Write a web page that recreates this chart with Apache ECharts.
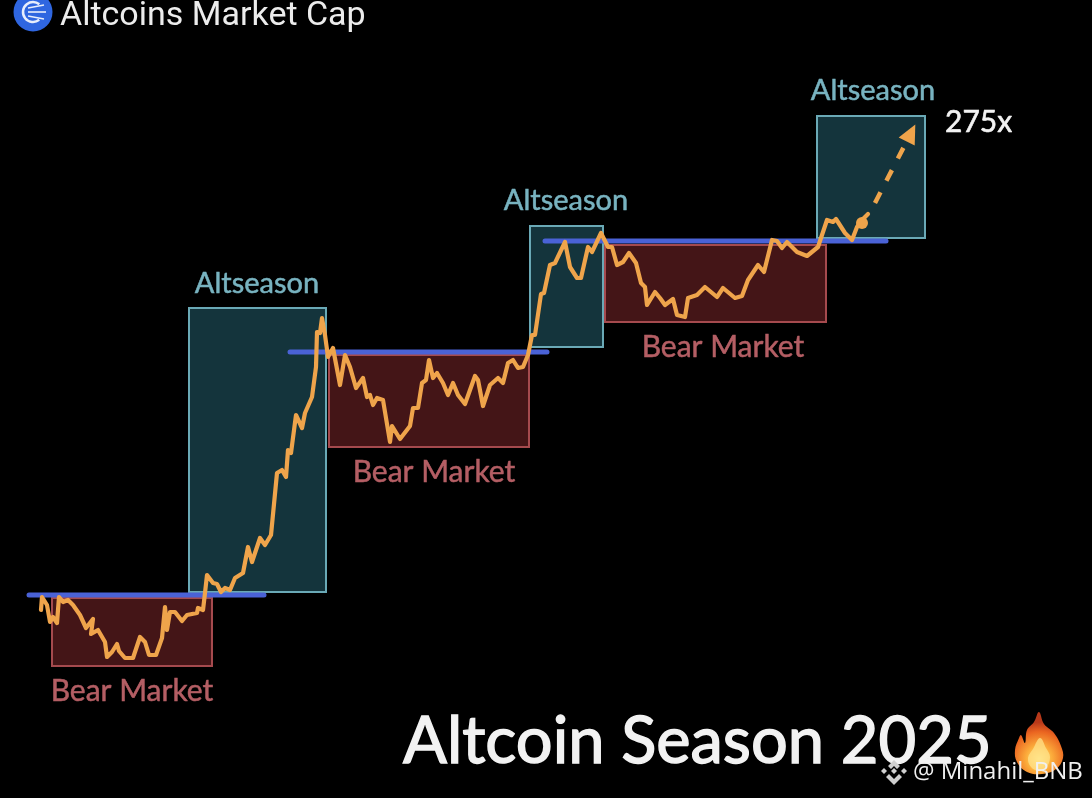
<!DOCTYPE html>
<html>
<head>
<meta charset="utf-8">
<title>Altcoins Market Cap</title>
<script src="https://cdn.jsdelivr.net/npm/echarts@6/dist/echarts.min.js"></script>
<style>
  html,body{margin:0;padding:0;background:#000;}
  #main{width:1092px;height:798px;}
</style>
</head>
<body>
<div id="main"></div>
<script>
var priceX = [41,42,47,50,53,57,59,63,68,73,80,86,93,91,98,105,107,112,117,119,125,133,140,145,149,156,162,165,167,170,175,182,187,197,198,203,205,207,213,217,221,225,230,235,243,248,252,260,265,271,277,282,286,288,291,296,302,305,312,316,317,320,322,325,328,333,340,345,350,356,363,367,370,373,377,383,390,392,400,410,413,418,422,426,429,433,437,443,448,453,458,465,475,478,483,490,498,503,508,513,518,523,528,532,535,541,544,550,555,565,570,577,581,588,592,601,608,612,617,623,629,636,641,645,647,655,660,665,673,677,685,688,697,705,717,723,735,742,748,758,764,772,777,782,787,797,807,818,823,827,833,836,845,852,857,862,868];
var priceY = [610,597,605,622,617,623,597,602,600,605,615,628,619,634,630,642,657,652,644,651,658,658,637,642,655,655,638,607,630,612,612,621,615,613,608,610,593,575,583,584,592,588,590,578,573,547,562,538,545,535,473,470,477,450,453,415,428,413,397,367,332,333,318,335,357,348,385,355,367,388,378,397,395,405,398,400,442,426,439,426,408,408,383,380,360,378,373,383,395,383,395,404,376,380,406,385,378,383,363,360,368,367,355,335,335,294,293,265,263,242,267,278,278,247,252,233,247,247,265,262,253,263,283,287,305,292,298,305,299,315,317,298,295,287,297,288,298,296,280,265,272,240,241,248,242,252,256,247,232,220,222,219,233,240,227,220,214];

var forecastX = [875,911];
var forecastY = [203,133];
var blobX = [862];
var blobY = [223];

// [x start, top, x end, bottom]
var altseasonBoxes = [[189,308,326,592],[530,226,603,347],[817,116,925,238]];
var bearBoxes = [[52,598,212,666],[329,355,529,447],[605,245,826,322]];
var resistanceLines = [[29,264,595],[290,547,352],[545,886,241]];

var altseasonLabelX = [257,566,873];
var altseasonLabelY = [284,201,91];
var bearLabelX = [132,434,723];
var bearLabelY = [691,472,347];

var chartTitle = 'Altcoins Market Cap';
var bottomTitle = 'Altcoin Season 2025';
var targetLabel = '275x';
var watermark = '@ Minahil_BNB';

var myChart = echarts.init(document.getElementById('main'));

function boxSeries(name, rows, fill, stroke) {
  return {
    name: name,
    type: 'custom',
    coordinateSystem: 'cartesian2d',
    clip: false,
    z: 1,
    silent: true,
    data: rows,
    encode: { x: [0, 2], y: [1, 3] },
    renderItem: function (params, api) {
      var a = api.coord([api.value(0), api.value(1)]);
      var b = api.coord([api.value(2), api.value(3)]);
      return {
        type: 'rect',
        shape: { x: a[0], y: a[1], width: b[0] - a[0], height: b[1] - a[1] },
        style: { fill: fill, stroke: stroke, lineWidth: 2 }
      };
    }
  };
}

function labelSeries(xs, ys, text, color, size, family) {
  return {
    type: 'scatter',
    symbolSize: 0,
    z: 6,
    silent: true,
    itemStyle: { opacity: 1 },
    data: xs.map(function (x, i) { return [x, ys[i]]; }),
    label: {
      show: true,
      position: 'inside',
      formatter: text,
      color: color,
      opacity: 1,
      fontSize: size,
      fontFamily: family,
      textBorderColor: color,
      textBorderWidth: 0.5
    }
  };
}

var series = [];
series.push(boxSeries('Altseason', altseasonBoxes, '#14343c', '#6aa9b6'));
series.push(boxSeries('Bear Market', bearBoxes, '#441517', '#a54a4e'));

resistanceLines.forEach(function (r) {
  series.push({
    type: 'line',
    silent: true,
    symbol: 'none',
    z: 2,
    data: [[r[0], r[2]], [r[1], r[2]]],
    lineStyle: { color: '#4a62d6', width: 5, cap: 'round' }
  });
});

series.push({
  name: 'Altcoins Market Cap',
  type: 'line',
  silent: true,
  symbol: 'none',
  z: 4,
  data: priceX.map(function (x, i) { return [x, priceY[i]]; }),
  lineStyle: { color: '#efa44b', width: 4.2, join: 'round', cap: 'round' }
});

series.push({
  type: 'line',
  silent: true,
  z: 4,
  data: [
    { value: [forecastX[0], forecastY[0]], symbol: 'none' },
    { value: [forecastX[1], forecastY[1]], symbol: 'triangle', symbolSize: [18, 19], symbolRotate: -27 }
  ],
  itemStyle: { color: '#efa44b', opacity: 1 },
  lineStyle: { color: '#efa44b', width: 4.5, type: [12, 13], cap: 'butt' }
});

series.push({
  type: 'scatter',
  silent: true,
  z: 4,
  symbolSize: 12,
  itemStyle: { color: '#efa44b', opacity: 1 },
  data: blobX.map(function (x, i) { return [x, blobY[i]]; })
});

series.push(labelSeries(altseasonLabelX, altseasonLabelY, 'Altseason', '#78b3c0', 29, 'Lato'));
series.push(labelSeries(bearLabelX, bearLabelY, 'Bear Market', '#b45e64', 30, 'Lato'));

var flameOuter = [[1039,712],[1044,724],[1054,733],[1061,746],[1063,758],[1056,769],[1042,774],[1027,772],[1017,762],[1015,750],[1019,738],[1021,735],[1025,743],[1027,730],[1034,722]];
var flameInner = [[1040,738],[1046,748],[1050,757],[1046,768],[1039,771],[1031,767],[1028,758],[1033,749]];

var option = {
  backgroundColor: '#000',
  animation: false,
  grid: { left: 0, right: 0, top: 0, bottom: 0 },
  xAxis: { type: 'value', min: 0, max: 1092, show: false },
  yAxis: { type: 'value', min: 0, max: 798, inverse: true, show: false },
  series: series,
  graphic: [
    // header icon
    { type: 'circle', shape: { cx: 33, cy: 12, r: 19.5 }, style: { fill: '#2f66e0' }, z: 10 },
    { type: 'arc', shape: { cx: 33, cy: 12, r: 10, startAngle: 0.9, endAngle: 5.4 }, style: { stroke: '#e8eefc', fill: null, lineWidth: 2.5 }, z: 11 },
    { type: 'line', shape: { x1: 28, y1: 8, x2: 44, y2: 5 }, style: { stroke: '#e8eefc', lineWidth: 1.6 }, z: 11 },
    { type: 'line', shape: { x1: 28, y1: 12, x2: 46, y2: 12 }, style: { stroke: '#e8eefc', lineWidth: 1.6 }, z: 11 },
    { type: 'line', shape: { x1: 28, y1: 16, x2: 44, y2: 19 }, style: { stroke: '#e8eefc', lineWidth: 1.6 }, z: 11 },
    { type: 'text', x: 60, y: -1, z: 11, style: { text: chartTitle, fill: '#ececec', font: '34px Roboto' } },

    // target and footer text
    { type: 'text', x: 945, y: 107, z: 11, style: { text: targetLabel, fill: '#f2f2f2', stroke: '#f2f2f2', lineWidth: 0.6, font: '30px Lato' } },
    { type: 'text', x: 403, y: 710, z: 11, style: { text: bottomTitle, fill: '#f2f2f2', stroke: '#f2f2f2', lineWidth: 1.4, font: '65px Lato' } },

    // flame
    {
      type: 'polygon', z: 11,
      shape: { points: flameOuter, smooth: 0.4 },
      style: {
        fill: new echarts.graphic.RadialGradient(0.5, 0.75, 0.75, [
          { offset: 0, color: '#ffe98a' },
          { offset: 0.35, color: '#fcae3c' },
          { offset: 0.75, color: '#ea6420' },
          { offset: 1, color: '#b8391a' }
        ])
      }
    },
    {
      type: 'polygon', z: 12,
      shape: { points: flameInner, smooth: 0.4 },
      style: { fill: '#ffe38a', opacity: 0.75 }
    },

    // watermark
    { type: 'polygon', z: 13, shape: { points: [[894,760],[900,766],[897,769],[894,766],[891,769],[888,766]] }, style: { fill: '#cfcfcf' } },
    { type: 'polygon', z: 13, shape: { points: [[881,771],[884,768],[887,771],[884,774]] }, style: { fill: '#cfcfcf' } },
    { type: 'polygon', z: 13, shape: { points: [[901,771],[904,768],[907,771],[904,774]] }, style: { fill: '#cfcfcf' } },
    { type: 'polygon', z: 13, shape: { points: [[891,771],[894,768],[897,771],[894,774]] }, style: { fill: '#cfcfcf' } },
    { type: 'polygon', z: 13, shape: { points: [[886,777],[889,774],[894,779],[899,774],[902,777],[894,785]] }, style: { fill: '#cfcfcf' } },
    { type: 'text', x: 913, y: 760, z: 13, style: { text: watermark, fill: '#f0f0f0', font: '24px "Open Sans"' } }
  ]
};

myChart.setOption(option, true, true);
window.addEventListener('resize', function () {
  myChart.resize();
});
</script>
</body>
</html>
